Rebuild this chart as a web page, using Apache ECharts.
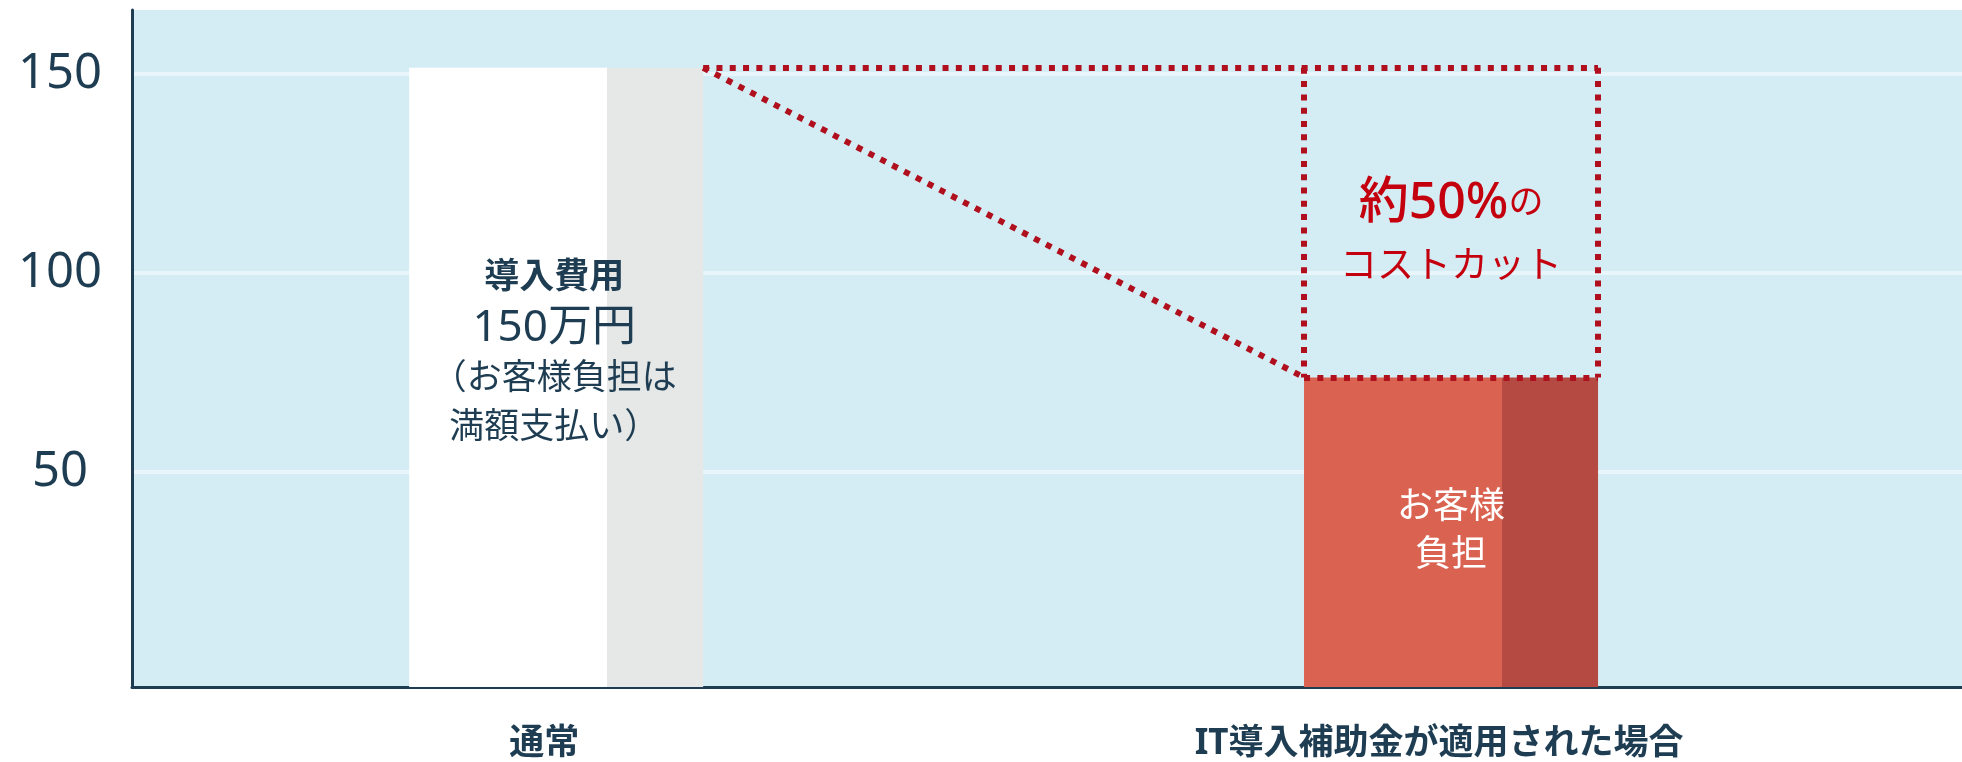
<!DOCTYPE html>
<html>
<head>
<meta charset="utf-8">
<script src="https://cdn.jsdelivr.net/npm/echarts@6.0.0/dist/echarts.min.js"></script>
<style>
  html, body { margin: 0; padding: 0; background: #fff; }
  #chart { width: 1962px; height: 762px; }
</style>
</head>
<body>
<div id="chart"></div>
<script>
// データ
const categories = ['通常', 'IT導入補助金が適用された場合']
const costValues = [150, 75]
const yTicks = [50, 100, 150]
const barColors = [['#ffffff', '#e6e8e8'], ['#da6250', '#b44a42']]

const xPos = categories.map((c, i) => i + 1)
const barWidth = 294
const unitPx = 895 // x軸1単位のpx幅
const half = barWidth / 2 / unitPx

const navy = '#1e3d52'
const dotRed = '#b0101e'
const font = "'Noto Sans', 'Noto Sans CJK JP', sans-serif"

const full = costValues[0]
const paid = costValues[1]
const cutRate = Math.round((1 - paid / full) * 100)
const xa = xPos[0] + half
const xl = xPos[1] - half
const xr = xPos[1] + half

// 棒の左右2色（立体っぽく見せる）
function twoTone(c) {
  return {
    type: 'linear', x: 0, y: 0, x2: 1, y2: 0,
    colorStops: [
      { offset: 0, color: c[0] },
      { offset: 0.673, color: c[0] },
      { offset: 0.673, color: c[1] },
      { offset: 1, color: c[1] }
    ]
  }
}

const barLabels = [
  {
    show: true,
    position: 'inside',
    offset: [-2, -24],
    formatter: '{a|導入費用}\n{b|' + full + '万円}\n{c|（お客様負担は}\n{c|満額支払い）}',
    rich: {
      a: { fontSize: 35, fontWeight: 'bold', color: navy, lineHeight: 49, fontFamily: font },
      b: { fontSize: 44, color: navy, lineHeight: 52, fontFamily: font },
      c: { fontSize: 35, color: navy, lineHeight: 49, fontFamily: font }
    }
  },
  {
    show: true,
    position: 'inside',
    formatter: 'お客様\n負担',
    color: '#ffffff',
    fontSize: 36,
    lineHeight: 48,
    fontFamily: font
  }
]

const chart = echarts.init(document.getElementById('chart'))

chart.setOption({
  animation: false,
  textStyle: { fontFamily: font },
  grid: {
    left: 132, right: 0, top: 10, bottom: 75,
    show: true, backgroundColor: '#d4edf4', borderWidth: 0
  },
  xAxis: {
    type: 'value',
    min: 0.526,
    max: 2.571,
    axisLine: { show: true, onZero: false, lineStyle: { color: navy, width: 3 } },
    axisTick: { show: false },
    splitLine: { show: false },
    axisLabel: {
      customValues: xPos,
      formatter: v => categories[Math.round(v) - 1],
      color: navy,
      fontSize: 35,
      fontWeight: 'bold',
      lineHeight: 36,
      margin: 39,
      padding: [0, 24, 0, 0]
    }
  },
  yAxis: [
    {
      type: 'value',
      min: -4,
      max: 166,
      axisLine: { show: true, onZero: false, lineStyle: { color: navy, width: 3 } },
      axisTick: { show: false, customValues: yTicks },
      axisLabel: {
        customValues: yTicks,
        color: navy,
        fontSize: 49,
        align: 'center',
        margin: 72,
        padding: [0, 0, 18, 0]
      },
      splitLine: { show: true, lineStyle: { color: '#e8f5fa', width: 4 } }
    },
    { type: 'value', min: 0, max: 164, show: false }
  ],
  series: [
    {
      type: 'bar',
      yAxisIndex: 1,
      barWidth: barWidth,
      silent: true,
      data: costValues.map((v, i) => ({
        value: [xPos[i], v],
        itemStyle: { color: twoTone(barColors[i]) },
        label: barLabels[i]
      })),
      markLine: {
        silent: true,
        symbol: ['none', 'none'],
        label: { show: false },
        lineStyle: { color: dotRed, width: 6, type: [6, 7.3], cap: 'butt' },
        data: [
          [{ coord: [xa, full] }, { coord: [xr, full] }],
          [{ coord: [xa, full] }, { coord: [xl, paid] }],
          [{ coord: [xl, full] }, { coord: [xl, paid] }],
          [{ coord: [xr, full] }, { coord: [xr, paid] }],
          [{ coord: [xl, paid] }, { coord: [xr, paid] }]
        ]
      },
      markArea: {
        silent: true,
        itemStyle: { color: 'rgba(0,0,0,0)' },
        label: {
          show: true,
          position: 'inside',
          offset: [0, 13],
          formatter: '{a|約' + cutRate + '%}{b|の}\n{c|コストカット}',
          rich: {
            a: { fontSize: 50, fontWeight: 500, color: '#c4000e', lineHeight: 63, fontFamily: font },
            b: { fontSize: 35, color: '#c4000e', lineHeight: 63, fontFamily: font },
            c: { fontSize: 37, color: '#c4000e', lineHeight: 63, fontFamily: font }
          }
        },
        data: [[{ coord: [xl, full] }, { coord: [xr, paid] }]]
      }
    }
  ]
})
</script>
</body>
</html>
